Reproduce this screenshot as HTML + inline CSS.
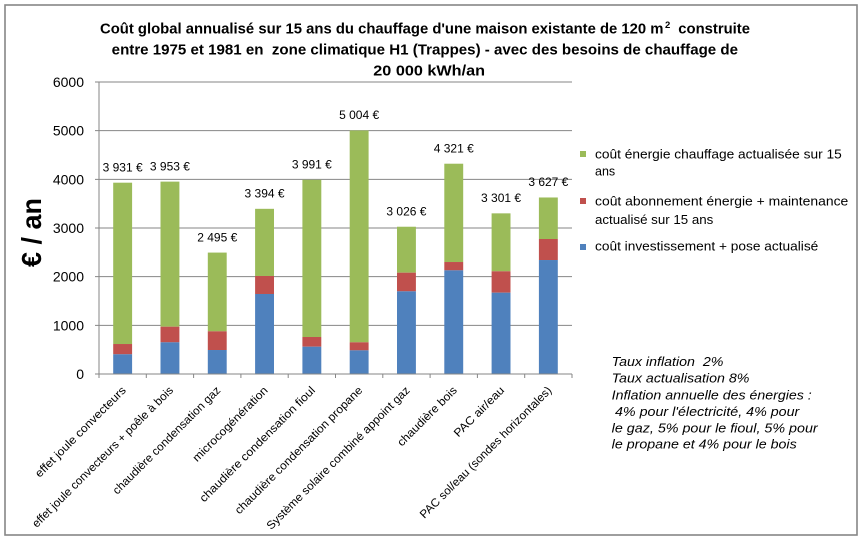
<!DOCTYPE html>
<html>
<head>
<meta charset="utf-8">
<style>
  html, body { margin:0; padding:0; background:#ffffff; }
  svg { display:block; }
  text { font-family: "Liberation Sans", Arial, sans-serif; fill:#000; white-space:pre; }
</style>
</head>
<body>
<svg width="864" height="543" viewBox="0 0 864 543" xmlns="http://www.w3.org/2000/svg">
  <rect x="0" y="0" width="864" height="543" fill="#ffffff"/>
  <!-- chart border -->
  <rect x="5" y="5" width="852" height="530" fill="#ffffff" stroke="#868686" stroke-width="1.6"/>

  <!-- Title -->
  <text x="100" y="33.5" font-size="14.5" font-weight="bold" textLength="563.5" lengthAdjust="spacingAndGlyphs">Coût global annualisé sur 15 ans du chauffage d'une maison existante de 120 m</text>
  <text x="665" y="28" font-size="9.5" font-weight="bold">2</text>
  <text x="678.3" y="33.5" font-size="14.5" font-weight="bold" textLength="71.7" lengthAdjust="spacingAndGlyphs">construite</text>
  <text x="111.7" y="54.5" font-size="14.5" font-weight="bold" textLength="626.3" lengthAdjust="spacingAndGlyphs">entre 1975 et 1981 en  zone climatique H1 (Trappes) - avec des besoins de chauffage de</text>
  <text x="373.3" y="75.5" font-size="14.5" font-weight="bold" textLength="111.7" lengthAdjust="spacingAndGlyphs">20 000 kWh/an</text>

  <!-- Gridlines -->
  <g stroke="#868686" stroke-width="1">
    <line x1="95" y1="82" x2="572" y2="82"/>
    <line x1="95" y1="130.67" x2="572" y2="130.67"/>
    <line x1="95" y1="179.33" x2="572" y2="179.33"/>
    <line x1="95" y1="228" x2="572" y2="228"/>
    <line x1="95" y1="276.67" x2="572" y2="276.67"/>
    <line x1="95" y1="325.33" x2="572" y2="325.33"/>
  </g>

  <!-- Y tick labels -->
  <g font-size="14" text-anchor="end">
    <text x="84" y="87">6000</text>
    <text x="84" y="135.7">5000</text>
    <text x="84" y="184.3">4000</text>
    <text x="84" y="233">3000</text>
    <text x="84" y="281.7">2000</text>
    <text x="84" y="330.3">1000</text>
    <text x="84" y="379">0</text>
  </g>

  <!-- Y axis title -->
  <text transform="translate(41,232.5) rotate(-90)" x="0" y="0" font-size="28" font-weight="bold" text-anchor="middle" textLength="69" lengthAdjust="spacingAndGlyphs">€ / an</text>

  <!-- Bars -->
  <g>
    <rect x="113.2" y="182.69" width="18.9" height="161.33" fill="#9BBB59"/>
    <rect x="113.2" y="344.02" width="18.9" height="10.27" fill="#C0504D"/>
    <rect x="113.2" y="354.29" width="18.9" height="19.71" fill="#4F81BD"/>

    <rect x="160.5" y="181.62" width="18.9" height="145.08" fill="#9BBB59"/>
    <rect x="160.5" y="326.70" width="18.9" height="15.62" fill="#C0504D"/>
    <rect x="160.5" y="342.32" width="18.9" height="31.68" fill="#4F81BD"/>

    <rect x="207.8" y="252.58" width="18.9" height="78.74" fill="#9BBB59"/>
    <rect x="207.8" y="331.32" width="18.9" height="18.69" fill="#C0504D"/>
    <rect x="207.8" y="350.01" width="18.9" height="23.99" fill="#4F81BD"/>

    <rect x="255.1" y="208.82" width="18.9" height="67.16" fill="#9BBB59"/>
    <rect x="255.1" y="275.98" width="18.9" height="18.01" fill="#C0504D"/>
    <rect x="255.1" y="293.99" width="18.9" height="80.01" fill="#4F81BD"/>

    <rect x="302.4" y="179.77" width="18.9" height="157.24" fill="#9BBB59"/>
    <rect x="302.4" y="337.01" width="18.9" height="9.69" fill="#C0504D"/>
    <rect x="302.4" y="346.70" width="18.9" height="27.30" fill="#4F81BD"/>

    <rect x="349.7" y="130.47" width="18.9" height="211.85" fill="#9BBB59"/>
    <rect x="349.7" y="342.32" width="18.9" height="8.03" fill="#C0504D"/>
    <rect x="349.7" y="350.35" width="18.9" height="23.65" fill="#4F81BD"/>

    <rect x="397.0" y="226.73" width="18.9" height="45.95" fill="#9BBB59"/>
    <rect x="397.0" y="272.68" width="18.9" height="18.63" fill="#C0504D"/>
    <rect x="397.0" y="291.31" width="18.9" height="82.69" fill="#4F81BD"/>

    <rect x="444.3" y="163.71" width="18.9" height="98.31" fill="#9BBB59"/>
    <rect x="444.3" y="262.02" width="18.9" height="8.32" fill="#C0504D"/>
    <rect x="444.3" y="270.34" width="18.9" height="103.66" fill="#4F81BD"/>

    <rect x="491.6" y="213.35" width="18.9" height="57.96" fill="#9BBB59"/>
    <rect x="491.6" y="271.31" width="18.9" height="21.37" fill="#C0504D"/>
    <rect x="491.6" y="292.68" width="18.9" height="81.32" fill="#4F81BD"/>

    <rect x="538.9" y="197.48" width="18.9" height="41.52" fill="#9BBB59"/>
    <rect x="538.9" y="239.00" width="18.9" height="21.02" fill="#C0504D"/>
    <rect x="538.9" y="260.02" width="18.9" height="113.98" fill="#4F81BD"/>
  </g>

  <!-- Axes -->
  <g stroke="#868686" stroke-width="1">
    <line x1="99" y1="82" x2="99" y2="374"/>
    <line x1="95" y1="374" x2="572" y2="374"/>
    <line x1="99" y1="374" x2="99" y2="378"/>
    <line x1="146.3" y1="374" x2="146.3" y2="378"/>
    <line x1="193.6" y1="374" x2="193.6" y2="378"/>
    <line x1="240.9" y1="374" x2="240.9" y2="378"/>
    <line x1="288.2" y1="374" x2="288.2" y2="378"/>
    <line x1="335.5" y1="374" x2="335.5" y2="378"/>
    <line x1="382.8" y1="374" x2="382.8" y2="378"/>
    <line x1="430.1" y1="374" x2="430.1" y2="378"/>
    <line x1="477.4" y1="374" x2="477.4" y2="378"/>
    <line x1="524.7" y1="374" x2="524.7" y2="378"/>
    <line x1="572" y1="374" x2="572" y2="378"/>
  </g>

  <!-- Data labels -->
  <g font-size="12" text-anchor="middle">
    <text x="122.65" y="171.4">3 931 €</text>
    <text x="169.95" y="170.3">3 953 €</text>
    <text x="217.25" y="241.3">2 495 €</text>
    <text x="264.55" y="197.5">3 394 €</text>
    <text x="311.85" y="168.5">3 991 €</text>
    <text x="359.15" y="119.2">5 004 €</text>
    <text x="406.45" y="215.4">3 026 €</text>
    <text x="453.75" y="152.4">4 321 €</text>
    <text x="501.05" y="202.0">3 301 €</text>
    <text x="548.35" y="186.2">3 627 €</text>
  </g>

  <!-- X category labels -->
  <g font-size="11.5" text-anchor="end">
    <text transform="translate(126.6,391) rotate(-45)" textLength="123" lengthAdjust="spacingAndGlyphs">effet joule convecteurs</text>
    <text transform="translate(173.9,391) rotate(-45)" textLength="194" lengthAdjust="spacingAndGlyphs">effet joule convecteurs + poêle à bois</text>
    <text transform="translate(221.2,391) rotate(-45)" textLength="147" lengthAdjust="spacingAndGlyphs">chaudière condensation gaz</text>
    <text transform="translate(268.5,391) rotate(-45)" textLength="101" lengthAdjust="spacingAndGlyphs">microcogénération</text>
    <text transform="translate(315.8,391) rotate(-45)" textLength="158" lengthAdjust="spacingAndGlyphs">chaudière condensation fioul</text>
    <text transform="translate(363.1,391) rotate(-45)" textLength="175" lengthAdjust="spacingAndGlyphs">chaudière condensation propane</text>
    <text transform="translate(410.4,391) rotate(-45)" textLength="197" lengthAdjust="spacingAndGlyphs">Système solaire combiné appoint gaz</text>
    <text transform="translate(457.7,391) rotate(-45)" textLength="79" lengthAdjust="spacingAndGlyphs">chaudière bois</text>
    <text transform="translate(505.0,391) rotate(-45)" textLength="66" lengthAdjust="spacingAndGlyphs">PAC air/eau</text>
    <text transform="translate(552.3,391) rotate(-45)" textLength="181" lengthAdjust="spacingAndGlyphs">PAC sol/eau (sondes horizontales)</text>
  </g>

  <!-- Legend -->
  <rect x="580" y="151" width="6" height="6" fill="#9BBB59"/>
  <rect x="580" y="198" width="6" height="6" fill="#C0504D"/>
  <rect x="580" y="244" width="6" height="6" fill="#4F81BD"/>
  <g font-size="12.5">
    <text x="595" y="158.3" textLength="246.7" lengthAdjust="spacingAndGlyphs">coût énergie chauffage actualisée sur 15</text>
    <text x="595" y="175.7">ans</text>
    <text x="595" y="205.7" textLength="253.3" lengthAdjust="spacingAndGlyphs">coût abonnement énergie + maintenance</text>
    <text x="595" y="224" textLength="118.3" lengthAdjust="spacingAndGlyphs">actualisé sur 15 ans</text>
    <text x="595" y="250.7" textLength="223.3" lengthAdjust="spacingAndGlyphs">coût investissement + pose actualisé</text>
  </g>

  <!-- Notes -->
  <g font-size="13" font-style="italic">
    <text x="611.7" y="366" textLength="111.7" lengthAdjust="spacingAndGlyphs">Taux inflation  2%</text>
    <text x="611.7" y="382.7" textLength="137.7" lengthAdjust="spacingAndGlyphs">Taux actualisation 8%</text>
    <text x="611.7" y="399.3" textLength="200" lengthAdjust="spacingAndGlyphs">Inflation annuelle des énergies :</text>
    <text x="615" y="416" textLength="184.3" lengthAdjust="spacingAndGlyphs">4% pour l'électricité, 4% pour</text>
    <text x="611.7" y="432.7" textLength="206" lengthAdjust="spacingAndGlyphs">le gaz, 5% pour le fioul, 5% pour</text>
    <text x="611.7" y="448.3" textLength="185" lengthAdjust="spacingAndGlyphs">le propane et 4% pour le bois</text>
  </g>
</svg>
</body>
</html>
